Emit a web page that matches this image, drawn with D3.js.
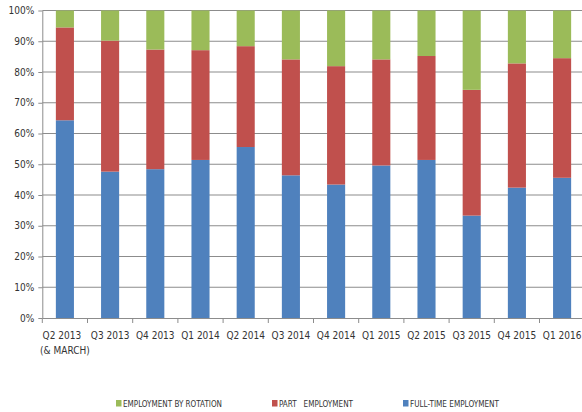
<!DOCTYPE html>
<html><head><meta charset="utf-8">
<script src="https://cdn.jsdelivr.net/npm/d3@7/dist/d3.min.js"></script>
<style>
body{margin:0;background:#fff;}
text{font-family:"Liberation Sans Narrow","Arial Narrow","DejaVu Sans Condensed",sans-serif;fill:#333;}
</style></head>
<body><svg id="c" width="582" height="412"></svg>
<script>
const categories = ["Q2 2013|(& MARCH)","Q3 2013","Q4 2013","Q1 2014","Q2 2014","Q3 2014","Q4 2014","Q1 2015","Q2 2015","Q3 2015","Q4 2015","Q1 2016"];
const fullTime = [64.3,47.6,48.4,51.4,55.6,46.4,43.4,49.6,51.4,33.3,42.4,45.6];
const partTime = [30.2,42.6,38.9,35.7,32.8,37.7,38.5,34.5,33.8,40.9,40.4,38.9];
const rotation = [5.5,9.8,12.7,12.9,11.6,15.9,18.1,15.9,14.8,25.8,17.2,15.5];
const yTicks = [0,10,20,30,40,50,60,70,80,90,100];
const seriesNames = ["FULL-TIME EMPLOYMENT","PART   EMPLOYMENT","EMPLOYMENT BY ROTATION"];
const colors = ["#4f81bd","#c0504d","#9bbb59"];

const svg = d3.select("#c");
const x = d3.scaleBand().domain(categories).range([42.3, 584.7]).paddingInner(0.6).paddingOuter(0.3);
const y = d3.scaleLinear().domain([0,100]).range([318, 10.5]);

// gridlines
svg.append("g").selectAll("line").data(yTicks.filter(d=>d>0)).join("line")
  .attr("x1",42.3).attr("x2",582).attr("y1",d=>y(d)).attr("y2",d=>y(d))
  .attr("stroke","#8c8c8c").attr("stroke-width",1.2);

const rows = categories.map((c,i)=>({cat:c, ft:fullTime[i], pt:partTime[i], rot:rotation[i]}));
const stack = d3.stack().keys(["ft","pt","rot"]).offset(d3.stackOffsetExpand);
const series = stack(rows);
svg.append("g").selectAll("g").data(series).join("g").attr("fill",(d,i)=>colors[i])
  .selectAll("rect").data(d=>d).join("rect")
  .attr("x",d=>x(d.data.cat)).attr("width",x.bandwidth())
  .attr("y",d=>y(d[1]*100)).attr("height",d=>y(d[0]*100)-y(d[1]*100));

// y axis
const ya = svg.append("g").attr("transform","translate(42.3,0)")
  .call(d3.axisLeft(y).tickValues(yTicks).tickFormat(d=>d+"%").tickSize(4).tickSizeOuter(0));
ya.select(".domain").attr("stroke","#8c8c8c");
ya.selectAll(".tick line").attr("stroke","#8c8c8c");
ya.selectAll("text").attr("font-size","10px").attr("x",-8).attr("fill","#333");

// x axis
const xa = svg.append("g").attr("transform","translate(0,318)")
  .call(d3.axisBottom(x).tickSize(0).tickSizeOuter(0).tickFormat(""));
xa.select(".domain").attr("stroke","#8c8c8c");
const step = x.step();
svg.append("g").selectAll("line").data(categories).join("line")
  .attr("x1",d=>x(d)-x.paddingInner()*step/2).attr("x2",d=>x(d)-x.paddingInner()*step/2)
  .attr("y1",318).attr("y2",323).attr("stroke","#8c8c8c");
xa.selectAll(".tick").each(function(d,i){
  const g = d3.select(this);
  g.select("text").remove();
  const lines = d.split("|");
  lines.forEach((l,j)=>{
    g.append("text").attr("y",21+j*15).attr("x", (i===0 && j===0)? -3 : 0)
      .attr("text-anchor","middle").attr("font-size","10px").attr("fill","#333").text(l);
  });
});

// legend
const legend = [
  {name:seriesNames[2], color:colors[2], x:116, w:99},
  {name:seriesNames[1], color:colors[1], x:272, w:74},
  {name:seriesNames[0], color:colors[0], x:403, w:89}
];
const lg = svg.append("g").selectAll("g").data(legend).join("g").attr("transform",d=>`translate(${d.x},400)`);
lg.append("rect").attr("width",5.5).attr("height",6.5).attr("fill",d=>d.color);
lg.append("text").attr("x",7).attr("y",7).attr("font-size","9.3px").attr("fill","#333")
  .attr("textLength",d=>d.w).attr("lengthAdjust","spacingAndGlyphs")
  .attr("xml:space","preserve").style("white-space","pre").text(d=>d.name);
</script></body></html>
